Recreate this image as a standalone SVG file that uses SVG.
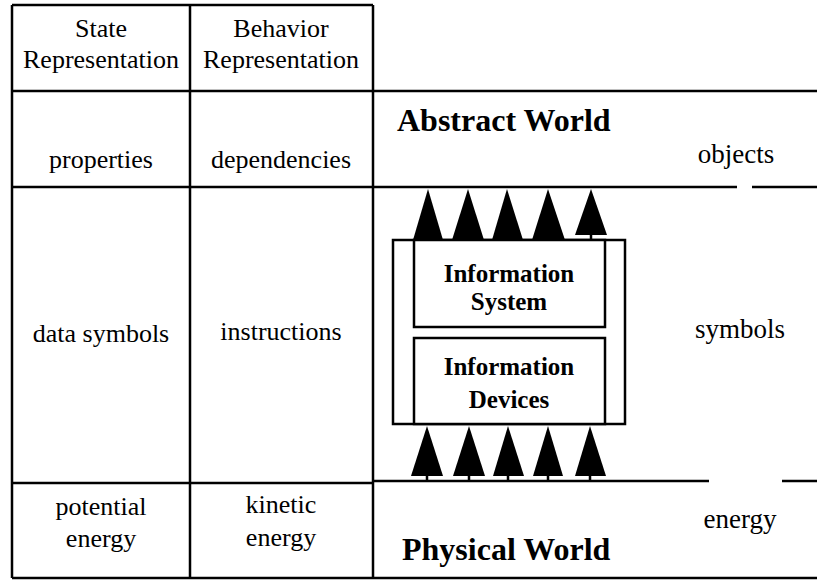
<svg xmlns="http://www.w3.org/2000/svg" width="817" height="580" viewBox="0 0 817 580">
<style>
.ln{stroke:#000;stroke-width:2.5;fill:none}
.bx{stroke:#000;stroke-width:2.5;fill:#fff}
.t{font-family:"Liberation Serif","Times New Roman",serif;font-size:26px;fill:#000;text-anchor:middle}
.r{font-family:"Liberation Serif","Times New Roman",serif;font-size:27px;fill:#000;text-anchor:middle}
.b{font-family:"Liberation Serif","Times New Roman",serif;font-weight:bold;fill:#000}
.ar{fill:#000}
</style>
<rect width="817" height="580" fill="#fff"/>
<g id="table">
<path class="ln" d="M12,5 H373 M12,5 V578 M190,5 V578 M373,5 V578 M12,91 H817 M12,187 H737 M752,187 H817 M12,483 H373 M373,481 H709 M782,481 H817 M12,578 H817"/>
<text class="t" x="101" y="37">State</text>
<text class="t" x="101" y="68">Representation</text>
<text class="t" x="281" y="37">Behavior</text>
<text class="t" x="281" y="68">Representation</text>
<text class="t" x="101" y="168">properties</text>
<text class="t" x="281" y="168">dependencies</text>
<text class="t" x="101" y="342">data symbols</text>
<text class="t" x="281" y="340">instructions</text>
<text class="t" x="101" y="515">potential</text>
<text class="t" x="101" y="547">energy</text>
<text class="t" x="281" y="513">kinetic</text>
<text class="t" x="281" y="546">energy</text>
</g>
<g id="labels">
<text class="b" x="397" y="131" font-size="32">Abstract World</text>
<text class="b" x="402" y="560" font-size="32">Physical World</text>
<text class="r" x="736" y="163">objects</text>
<text class="r" x="740" y="338">symbols</text>
<text class="r" x="740" y="528">energy</text>
</g>
<g id="information-devices-frame">
<rect class="bx" x="393" y="240" width="232" height="184"/>
</g>
<g id="information-system">
<rect class="bx" x="414" y="240" width="191" height="87"/>
<text class="b" x="509" y="282" font-size="25" text-anchor="middle">Information</text>
<text class="b" x="509" y="310" font-size="25" text-anchor="middle">System</text>
</g>
<g id="information-devices">
<rect class="bx" x="414" y="338" width="191" height="86"/>
<text class="b" x="509" y="375" font-size="25" text-anchor="middle">Information</text>
<text class="b" x="509" y="408" font-size="25" text-anchor="middle">Devices</text>
</g>
<g id="connectors">
<polygon class="ar" points="428,189 413,240 443,240"/>
<polygon class="ar" points="468,189 452,240 484,240"/>
<polygon class="ar" points="507,189 492,240 523,240"/>
<polygon class="ar" points="548,189 532,240 565,240"/>
<polygon class="ar" points="591,189 575,235 607,235"/>
<path class="ln" d="M591,234 V240"/>
<polygon class="ar" points="427,426 411,476 443,476"/>
<polygon class="ar" points="469,426 453,476 485,476"/>
<polygon class="ar" points="508,426 493,476 524,476"/>
<polygon class="ar" points="548,426 533,476 563,476"/>
<polygon class="ar" points="590,426 575,476 606,476"/>
<path class="ln" d="M427,475 V481 M469,475 V481 M508,475 V481 M548,475 V481 M590,475 V481"/>
</g>
</svg>
